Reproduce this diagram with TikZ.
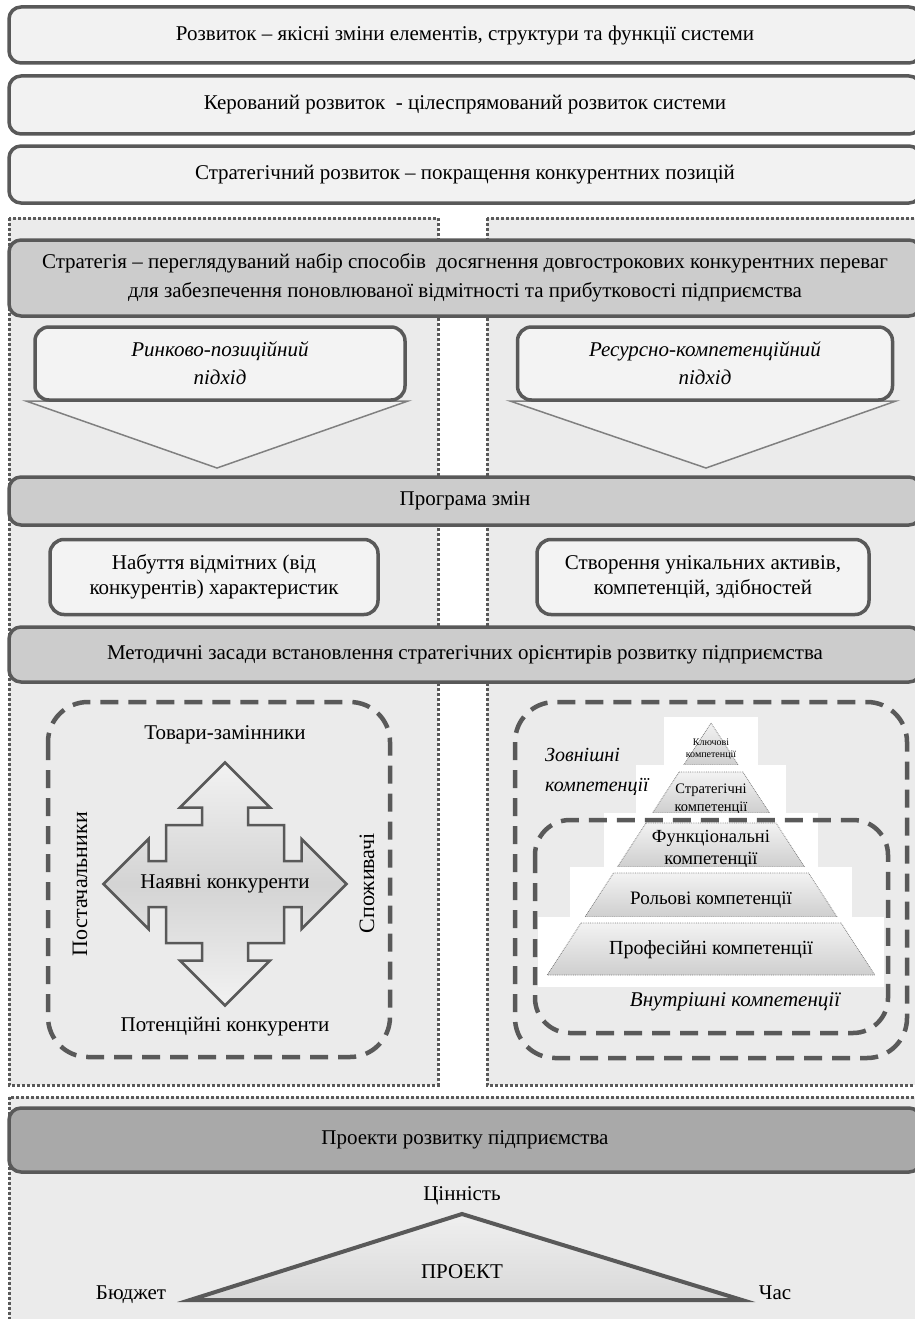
\documentclass[tikz,border=0pt]{standalone}
\usepackage{fontspec}
\setmainfont{Liberation Serif}
\definecolor{framegray}{RGB}{89,89,89}
\definecolor{panelgray}{RGB}{235,235,235}
\definecolor{boxgray}{RGB}{242,242,242}
\definecolor{bargray}{RGB}{204,204,204}
\definecolor{projgray}{RGB}{169,169,169}
\definecolor{linegray}{RGB}{128,128,128}
\tikzset{every picture/.style={/utils/exec={\fontsize{21}{25}\selectfont}}}
\usetikzlibrary{positioning}
\usetikzlibrary{calc}

\tikzset{
  panel/.style={fill=panelgray, draw=framegray, line width=3pt, dash pattern=on 3pt off 2pt},
  topbox/.style={draw=framegray, line width=3.5pt, fill=boxgray, rounded corners=12pt,
    minimum width=912, inner sep=0pt, align=center},
  bar/.style={topbox, fill=bargray},
  callout/.style={draw=framegray, line width=3.5pt, fill=panelgray!60, rounded corners=14pt,
    inner sep=0pt, align=center},
  callouttri/.style={draw=linegray, line width=1.5pt, fill=panelgray!70},
  dashbox/.style={draw=framegray, line width=4.5pt, dash pattern=on 18pt off 10pt, rounded corners=40pt},
  quadarrow/.style={draw=framegray, line width=2.5pt, top color=gray!10, bottom color=gray!10, middle color=gray!34},
  layer/.style={draw=gray, densely dotted, line width=0.8pt, top color=gray!10, bottom color=gray!38},
  projtri/.style={draw=framegray, line width=4pt, top color=gray!12, bottom color=gray!30}
}

\begin{document}
\begin{tikzpicture}[x=1pt, y=-1pt]
  \fill [white] (0,0) rectangle (915,1319);
  \useasboundingbox (0,0) rectangle (915,1319);

  % panels:
  \draw [panel] (9,218) rectangle (438,1085);
  \draw [panel] (487,218) rectangle (921,1085);
  \draw [panel] (9,1097) rectangle (921,1340);

  % definitions:
  \node [topbox, minimum height=56] (dev) at (465,35) {Розвиток – якісні зміни елементів, структури та функції системи};
  \node [topbox, minimum height=58] (mgd) at (465,105) {Керований розвиток \ - цілеспрямований розвиток системи};
  \node [topbox, minimum height=57] (strdev) at (465,174.5) {Стратегічний розвиток – покращення конкурентних позицій};

  \node [bar, minimum height=76, font=\fontsize{21}{29}\selectfont] (strategy) at (465,278)
    {Стратегія – переглядуваний набір способів \ досягнення довгострокових конкурентних переваг\\
     для забезпечення поновлюваної відмітності та прибутковості підприємства};

  % approaches:
  \draw [callouttri] (26,401) -- (408,401) -- (217,468) -- cycle;
  \node [callout, minimum width=370, minimum height=73, font=\fontsize{21}{28}\selectfont\itshape] (market) at (220,363.5)
    {Ринково-позиційний\\підхід};
  \draw [callouttri] (510,401) -- (896,401) -- (706,468) -- cycle;
  \node [callout, minimum width=375, minimum height=73, font=\fontsize{21}{28}\selectfont\itshape] (resource) at (705,363.5)
    {Ресурсно-компетенційний\\підхід};

  \node [bar, minimum height=48] (prog) at (465,501) {Програма змін};

  \node [callout, minimum width=328, minimum height=75, font=\fontsize{21}{25}\selectfont] (acquire) at (214,577)
    {Набуття відмітних (від\\конкурентів) характеристик};
  \node [callout, minimum width=332, minimum height=75, font=\fontsize{21}{25}\selectfont] (create) at (703,577)
    {Створення унікальних активів,\\компетенцій, здібностей};

  \node [bar, minimum height=55] (method) at (465,654.5)
    {Методичні засади встановлення стратегічних орієнтирів розвитку підприємства};

  % five forces:
  \draw [dashbox] (48,702) rectangle (390,1057);
  \coordinate (arrc) at (225,884);
  \draw [quadarrow] (arrc) ++(0,-121.5) -- ++(45,45) -- ++(-22,0) -- ++(0,17.5) -- ++(36,0) -- ++(0,36)
    -- ++(17.5,0) -- ++(0,-22) -- ++(45,45) -- ++(-45,45) -- ++(0,-22) -- ++(-17.5,0) -- ++(0,36)
    -- ++(-36,0) -- ++(0,17.5) -- ++(22,0) -- ++(-45,45) -- ++(-45,-45) -- ++(22,0) -- ++(0,-17.5)
    -- ++(-36,0) -- ++(0,-36) -- ++(-17.5,0) -- ++(0,22) -- ++(-45,-45) -- ++(45,-45) -- ++(0,22)
    -- ++(17.5,0) -- ++(0,-36) -- ++(36,0) -- ++(0,-17.5) -- ++(-22,0) -- cycle;
  \node (rivals) at (arrc) {Наявні конкуренти};
  \node (subst) at (225,735) {Товари-замінники};
  \node (potent) at (225,1027) {Потенційні конкуренти};
  \node [rotate=90, font=\fontsize{22}{26}\selectfont] (suppl) at (80,884) {Постачальники};
  \node [rotate=90, font=\fontsize{22}{26}\selectfont] (buyers) at (367,883) {Споживачі};

  % competence pyramid:
  \draw [dashbox] (515,702) rectangle (907,1058);
  \foreach \t/\b/\w/\wt/\wb/\ty/\fs/\n/\txt in {
      723/765/47/717/765/749/10/pkey/{Ключові\\компетенції},
      772/813/75/765/813/799/14.5/pstrat/{Стратегічні\\компетенції},
      823/867/107/813/867/849/18.5/pfunc/{Функціональні\\компетенції},
      873/917/141/867/917/900/19/prole/{Рольові компетенції},
      923/975/173/917/987/950/20/pprof/{Професійні компетенції}}
  {
    \pgfmathsetmacro\tophalf{0.65*(\t-723)}
    \pgfmathsetmacro\bothalf{0.65*(\b-723)}
    \pgfmathsetmacro\lsk{1.2*\fs}
    \fill [white] (711-\w,\wt) rectangle (711+\w,\wb);
    \draw [layer] (711-\tophalf,\t) -- (711+\tophalf,\t) -- (711+\bothalf,\b) -- (711-\bothalf,\b) -- cycle;
    \node [align=center, inner sep=0pt, font=\fontsize{\fs}{\lsk}\selectfont] (\n) at (711,\ty) {\txt};
  }
  \draw [dashbox, rounded corners=35pt] (535,820) rectangle (888,1033);
  \node [anchor=west, align=left, font=\fontsize{20}{30}\selectfont\itshape] (outer) at (538,772) {Зовнішні\\компетенції};
  \node [font=\itshape] (inner) at (735,1002) {Внутрішні компетенції};

  % projects:
  \node [bar, fill=projgray, minimum height=64] (proj) at (465,1140) {Проекти розвитку підприємства};
  \coordinate (apex) at (462,1214);
  \coordinate (bl) at (190,1300);
  \coordinate (br) at (742,1300);
  \draw [projtri] (apex) -- (br) -- (bl) -- cycle;
  \node (value) at (462,1196) {Цінність};
  \node (project) at (462,1272) {ПРОЕКТ};
  \node [anchor=base] (budget) at (131,1299) {Бюджет};
  \node [anchor=base] (time) at (775,1299) {Час};

\end{tikzpicture}
\end{document}
